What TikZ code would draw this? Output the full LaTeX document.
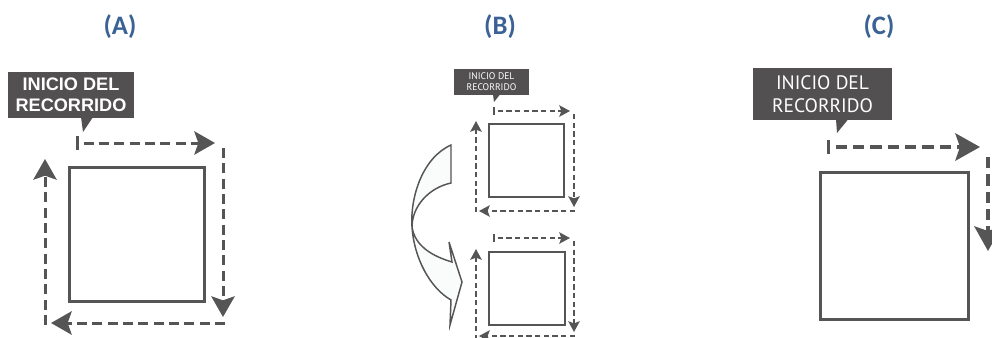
\documentclass[tikz,border=0pt]{standalone}
\usepackage{fontspec}
\usetikzlibrary{arrows.meta}
\newfontfamily\labfont{Liberation Sans}
\newfontfamily\ptfont{PT Sans}
\newfontfamily\titfont{Carlito}
\definecolor{titblue}{RGB}{58,98,148}
\definecolor{dgray}{RGB}{85,85,85}
\definecolor{boxgray}{RGB}{82,80,80}
\definecolor{curvefill}{RGB}{250,251,251}
\tikzset{
  title/.style={font=\titfont\bfseries\fontsize{20pt}{24pt}\selectfont, text=titblue, inner sep=0pt},
  labbox/.style={fill=boxgray, text=white, inner sep=0pt, align=center},
  sqbox/.style={draw=dgray, rectangle, inner sep=0pt},
  pathA/.style={draw=dgray, line width=2.25pt, dash pattern=on 7.5pt off 4pt},
  pathC/.style={draw=dgray, line width=2.6pt, dash pattern=on 8.5pt off 4.5pt},
  pathB/.style={draw=dgray, line width=1.4pt, dash pattern=on 4pt off 2.5pt},
  tipA/.style={-{Stealth[length=15.5pt, width=17.5pt, inset=3pt]}},
  tipC/.style={-{Stealth[length=18.5pt, width=20.5pt, inset=3.5pt]}},
  tipB/.style={-{Stealth[length=8pt, width=8.5pt, inset=1.5pt]}},
  startA/.style={{Bar[width=10pt, line width=2.25pt]}-{Stealth[length=15.5pt, width=17.5pt, inset=3pt]}},
  startC/.style={{Bar[width=10.5pt, line width=2.6pt]}-{Stealth[length=18.5pt, width=20.5pt, inset=3.5pt]}},
  startB/.style={{Bar[width=5.5pt, line width=1.4pt]}-{Stealth[length=8pt, width=8.5pt, inset=1.5pt]}},
  curvearrow/.style={draw=dgray, line width=1.1pt, fill=curvefill, line join=miter}
}
\begin{document}
\begin{tikzpicture}[x=0.75pt, y=-0.75pt]
\useasboundingbox (0,0) rectangle (992,337);
\clip (0,0) rectangle (992,337);
\fill[white] (0,0) rectangle (992,337);

% titles
\node[title] (tA) at (120,27) {(A)};
\node[title] (tB) at (500,27) {(B)};
\node[title] (tC) at (879,27) {(C)};

% ===== Panel A =====
\node[labbox, minimum width=94.5pt, minimum height=34.5pt,
      font=\labfont\bfseries\fontsize{13.6pt}{15.5pt}\selectfont] (labA) at (71,95)
      {INICIO DEL\\RECORRIDO};
\fill[boxgray] (81,117) -- (93,117) -- (83,132) -- cycle;
\node[sqbox, line width=2.25pt, minimum width=101pt, minimum height=100pt] (sqA) at (137,234.5) {};
\coordinate (a1) at (76,143);
\coordinate (a2) at (215,143);
\coordinate (a3) at (223,148);
\coordinate (a4) at (223,317);
\coordinate (a5) at (225,323);
\coordinate (a6) at (51,323);
\coordinate (a7) at (45,325);
\coordinate (a8) at (45,159);
\draw[pathA, startA, dash phase=7.5pt] (a1) -- (a2);
\draw[pathA, tipA] (a3) -- (a4);
\draw[pathA, tipA] (a5) -- (a6);
\draw[pathA, tipA] (a7) -- (a8);

% ===== Panel B =====
\node[labbox, minimum width=56pt, minimum height=19.5pt,
      font=\ptfont\fontsize{7.2pt}{8.2pt}\selectfont] (labB) at (491.5,82)
      {INICIO DEL\\RECORRIDO};
\fill[boxgray] (493,94.5) -- (500,94.5) -- (494,102) -- cycle;
\node[sqbox, line width=1.5pt, minimum width=56.5pt, minimum height=55pt] (sqB1) at (526.5,160.5) {};
\node[sqbox, line width=1.5pt, minimum width=56.5pt, minimum height=55pt] (sqB2) at (527,288.5) {};
% upper square route
\coordinate (b1) at (493,111);
\coordinate (b2) at (570,111);
\coordinate (b3) at (574,114);
\coordinate (b4) at (574,207);
\coordinate (b5) at (575,211);
\coordinate (b6) at (479,211);
\coordinate (b7) at (476,212);
\coordinate (b8) at (476,121);
\draw[pathB, startB, dash phase=4pt] (b1) -- (b2);
\draw[pathB, tipB] (b3) -- (b4);
\draw[pathB, tipB] (b5) -- (b6);
\draw[pathB, tipB] (b7) -- (b8);
% lower square route
\coordinate (c1) at (493,238);
\coordinate (c2) at (570,238);
\coordinate (c3) at (574,241);
\coordinate (c4) at (574,332);
\coordinate (c5) at (575,336);
\coordinate (c6) at (479,336);
\coordinate (c7) at (476,340);
\coordinate (c8) at (476,249);
\draw[pathB, startB, dash phase=4pt] (c1) -- (c2);
\draw[pathB, tipB] (c3) -- (c4);
\draw[pathB, tipB] (c5) -- (c6);
\draw[pathB, tipB] (c7) -- (c8);
% curved flip arrow
\draw[curvearrow] (451,145) .. controls (422,158) and (410,198) .. (412,227)
  .. controls (414,258) and (430,288) .. (451,300)
  -- (450,325) -- (462,282) -- (449,242) -- (452,262)
  .. controls (432,256) and (415,246) .. (412,227)
  .. controls (412,207) and (428,188) .. (451,183) -- cycle;

% ===== Panel C =====
\node[labbox, minimum width=104pt, minimum height=39pt,
      font=\ptfont\fontsize{14.6pt}{17pt}\selectfont] (labC) at (822.5,94)
      {INICIO DEL\\RECORRIDO};
\fill[boxgray] (836,119.5) -- (848,119.5) -- (837,133) -- cycle;
\node[sqbox, line width=2.25pt, minimum width=111pt, minimum height=110.5pt] (sqC) at (894.5,246) {};
\coordinate (d1) at (827,147);
\coordinate (d2) at (980,147);
\coordinate (d3) at (988,157);
\coordinate (d4) at (988,251);
\draw[pathC, startC, dash phase=8.5pt] (d1) -- (d2);
\draw[pathC, tipC] (d3) -- (d4);
\end{tikzpicture}
\end{document}
